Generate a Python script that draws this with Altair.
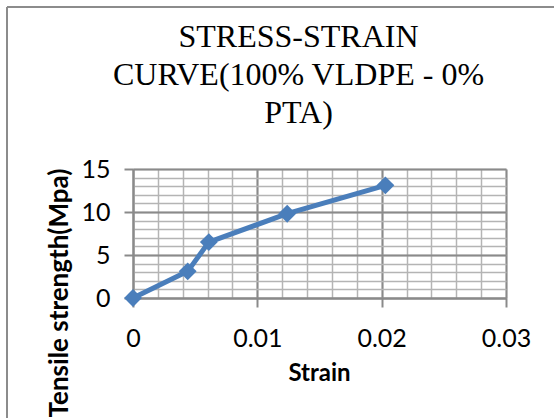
import altair as alt
import pandas as pd

strain = [0.0, 0.0044, 0.0061, 0.0124, 0.0203]
stress = [0.0, 3.1, 6.5, 9.8, 13.1]

x_major = [0.0, 0.01, 0.02, 0.03]
x_minor = [0.0, 0.002, 0.004, 0.006, 0.008, 0.01, 0.012, 0.014, 0.016, 0.018,
           0.02, 0.022, 0.024, 0.026, 0.028, 0.03]
y_major = [0, 5, 10, 15]
y_minor = list(range(0, 16))

df = pd.DataFrame({"strain": strain, "stress": stress})

FONT = "Lato"
BLUE = "#4a7ebb"

xs = alt.Scale(domain=[0, 0.03], nice=False, zero=False)
ys = alt.Scale(domain=[0, 15], nice=False)

label_expr = "datum.value == 0 ? '0' : format(datum.value, '.2f')"

grid_layer = alt.Chart(df).mark_point(opacity=0).encode(
    x=alt.X("strain:Q", scale=xs,
            axis=alt.Axis(values=x_minor, grid=True, gridColor="#b4b4b4", gridWidth=1.5,
                          labels=False, ticks=False, domain=False, title=None, orient="top")),
    y=alt.Y("stress:Q", scale=ys,
            axis=alt.Axis(values=y_minor, grid=True, gridColor="#b4b4b4", gridWidth=1.5,
                          labels=False, ticks=False, domain=False, title=None, orient="right")),
)

line_layer = alt.Chart(df).mark_line(
    color=BLUE, strokeWidth=5,
    point=alt.OverlayMarkDef(shape="diamond", size=320, filled=True, color=BLUE, opacity=1),
).encode(
    x=alt.X("strain:Q", scale=xs,
            axis=alt.Axis(values=x_major, grid=True, gridColor="#8a8a8a", gridWidth=2,
                          labelExpr=label_expr, labelFont=FONT, labelFontSize=25,
                          labelColor="#000000", labelPadding=19, labelFlush=False,
                          tickColor="#8a8a8a", tickSize=9, tickWidth=2,
                          domainColor="#8a8a8a", domainWidth=2,
                          title="Strain", titleFont=FONT, titleFontSize=24,
                          titleFontWeight="bold", titleColor="#000000",
                          titleX=186, titleY=82, titleBaseline="alphabetic",
                          orient="bottom")),
    y=alt.Y("stress:Q", scale=ys,
            axis=alt.Axis(values=y_major, grid=True, gridColor="#8a8a8a", gridWidth=2,
                          labelFont=FONT, labelFontSize=25, labelColor="#000000",
                          labelPadding=14, labelFlush=False,
                          tickColor="#8a8a8a", tickSize=9, tickWidth=2,
                          domainColor="#8a8a8a", domainWidth=2,
                          title="Tensile strength(Mpa)", titleFont=FONT, titleFontSize=26,
                          titleFontWeight="bold", titleColor="#000000",
                          titleAngle=-90, titleAlign="right", titleBaseline="middle",
                          titleX=-74, titleY=-1,
                          orient="left")),
)

frame_left = alt.Chart(df).mark_rule(color="#8c8c8c", strokeWidth=1.5).encode(
    x=alt.value(-126), y=alt.value(-162), y2=alt.value(260)
)
frame_top = alt.Chart(df).mark_rule(color="#8c8c8c", strokeWidth=1.5).encode(
    x=alt.value(-126), x2=alt.value(430), y=alt.value(-162)
)

chart = alt.layer(grid_layer, line_layer, frame_left, frame_top).resolve_axis(
    x="independent", y="independent"
).properties(
    width=373, height=129,
    title=alt.TitleParams(
        text=["STRESS-STRAIN", "CURVE(100% VLDPE - 0%", "PTA)"],
        font="Liberation Serif", fontSize=32, fontWeight="normal", color="#000000",
        lineHeight=38, anchor="middle", dx=-21, offset=38, dy=162,
    ),
    padding={"left": 133, "top": 169, "right": 48, "bottom": 120},
    autosize=alt.AutoSizeParams(type="none"),
).configure_view(stroke=None).configure(background="white")

chart.save("out.html", embed_options={"renderer": "svg", "actions": False})
